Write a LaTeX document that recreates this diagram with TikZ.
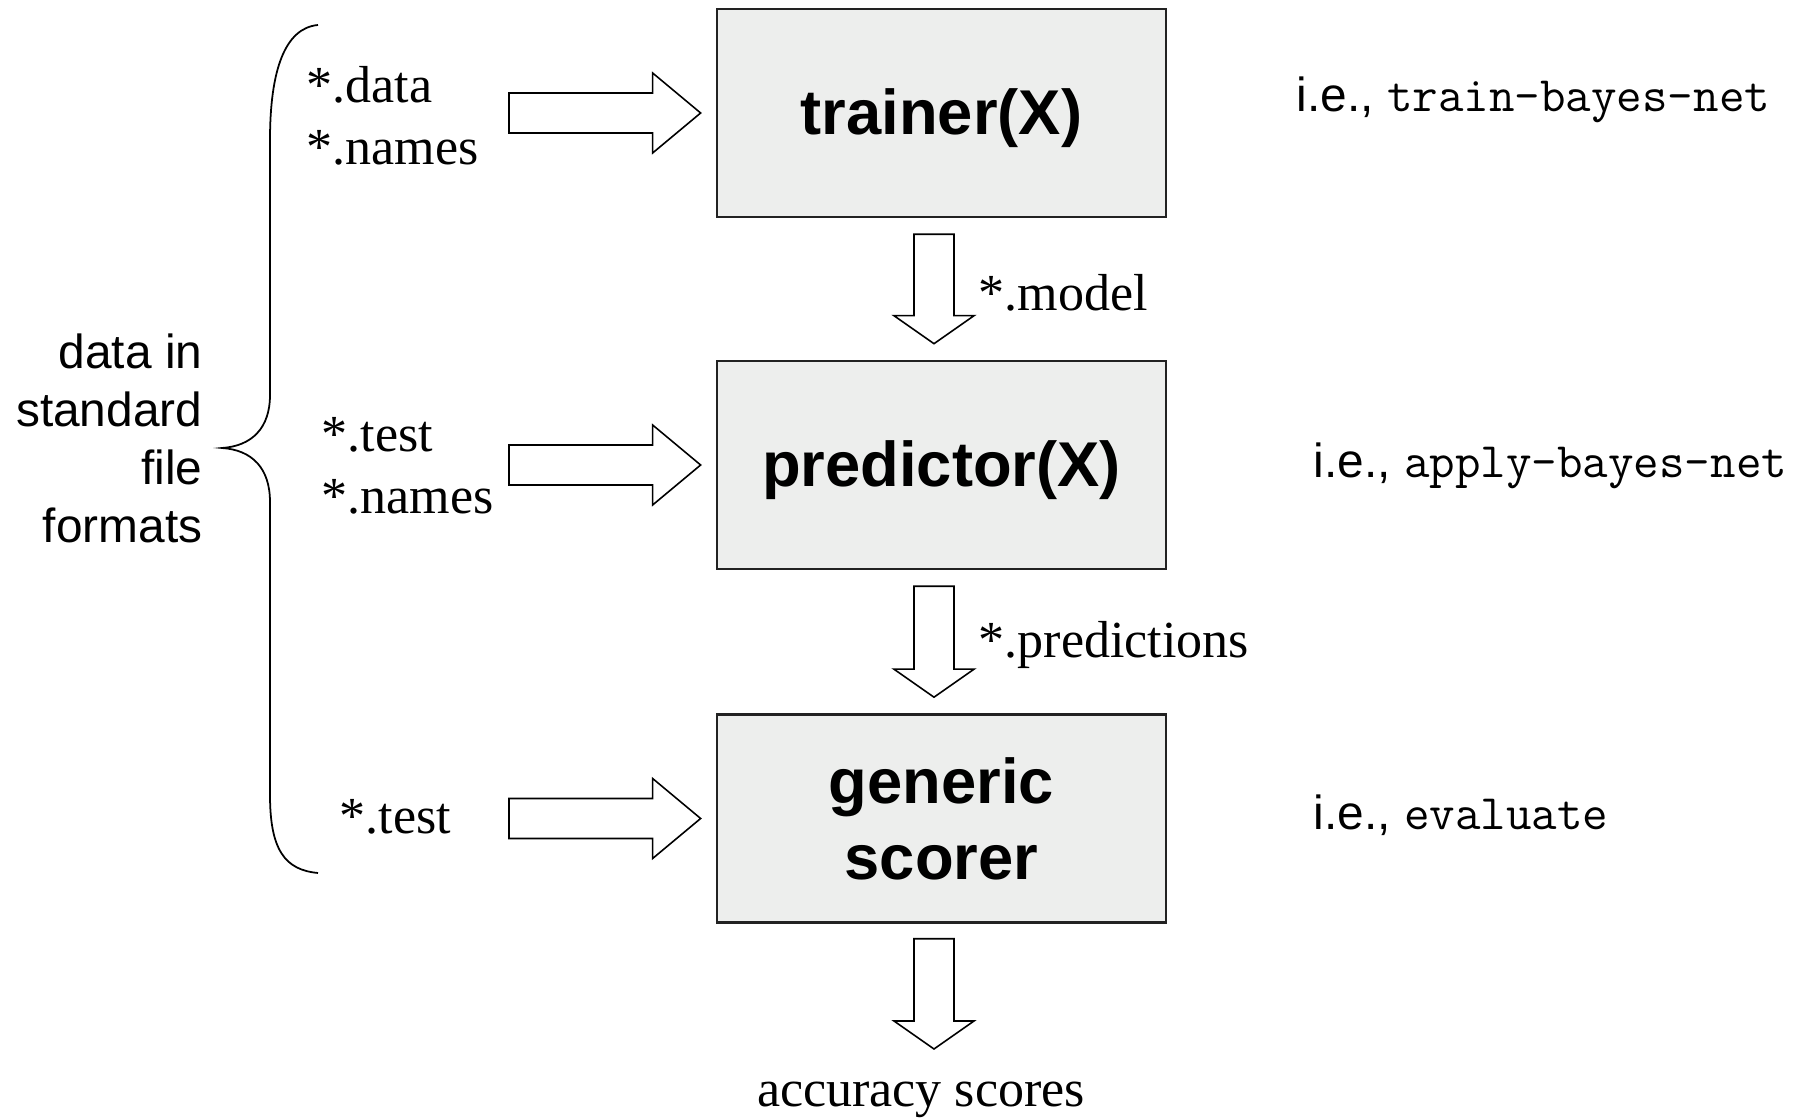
\documentclass[tikz,border=0pt]{standalone}
\usepackage{fontspec}
\setmainfont{Liberation Serif}
\setsansfont{Liberation Sans}
\usetikzlibrary{calc}

\definecolor{boxfill}{RGB}{237,238,237}
\definecolor{boxline}{RGB}{34,34,34}

\tikzset{
  stage/.style={draw=boxline, line width=0.7pt, fill=boxfill,
    minimum width=4.49cm, minimum height=2.08cm, inner sep=0pt, align=center,
    font=\sffamily\bfseries\fontsize{18}{21.6}\selectfont},
  filelabel/.style={inner sep=0pt, align=left, font=\fontsize{14.8}{17.6}\selectfont},
  note/.style={inner sep=0pt, font=\sffamily\fontsize{13.6}{16.5}\selectfont},
  flowarrow/.style={draw=black, fill=white, line width=0.45pt, line join=miter},
  bracket/.style={draw=black, line width=0.5pt},
}

% hollow block arrow pointing right: from the start point #1 to the tip #2
\newcommand\hflow[2]{%
  \draw[flowarrow] let \p1=(#1), \p2=(#2) in
    (\x1,\y2+0.2cm) -- (\x2-0.48cm,\y2+0.2cm) -- (\x2-0.48cm,\y2+0.4cm) --
    (\x2,\y2) -- (\x2-0.48cm,\y2-0.4cm) -- (\x2-0.48cm,\y2-0.2cm) --
    (\x1,\y2-0.2cm) -- cycle;}

% hollow block arrow pointing down: from the top point #1 to the tip #2
\newcommand\vflow[2]{%
  \draw[flowarrow] let \p1=(#1), \p2=(#2) in
    (\x1-0.2cm,\y1) -- (\x1+0.2cm,\y1) -- (\x1+0.2cm,\y2+0.28cm) --
    (\x1+0.4cm,\y2+0.28cm) -- (\x1,\y2) -- (\x1-0.4cm,\y2+0.28cm) --
    (\x1-0.2cm,\y2+0.28cm) -- cycle;}

\newcommand\mono[1]{{\ttfamily\fontsize{14.1}{16}\selectfont #1}}
% one-line stage title, set a little lower than its natural centre
\newcommand\stagetitle[1]{\raisebox{-1.6pt}[\height][\depth]{#1}}

\begin{document}
\begin{tikzpicture}[x=0.01cm, y=-0.01cm]
\useasboundingbox (0,0) rectangle (1802,1119);

% processing stages
\node[stage] (trainer)   at (941.5,113)   {\stagetitle{trainer(X)}};
\node[stage] (predictor) at (941.5,465)   {\stagetitle{predictor(X)}};
\node[stage] (scorer)    at (941.5,818.5) {generic\\scorer};

% input files
\node[filelabel, anchor=north west] (in1files) at (306,66)  {*.data\\*.names};
\node[filelabel, anchor=north west] (in2files) at (321,417) {*.test\\*.names};
\node[filelabel, anchor=base west]  (in3files) at (339,834) {*.test};

\coordinate (in1) at (509,113);
\coordinate (in2) at (509,465);
\coordinate (in3) at (509,817.5);
\hflow{in1}{[xshift=-0.15cm]trainer.west}
\hflow{in2}{[xshift=-0.15cm]predictor.west}
\hflow{in3}{[xshift=-0.15cm]scorer.west}

% flow between stages
\vflow{[shift={(-7.5,16)}]trainer.south}{[shift={(-7.5,-16)}]predictor.north}
\vflow{[shift={(-7.5,16)}]predictor.south}{[shift={(-7.5,-16)}]scorer.north}
\coordinate (out) at (934,1049);
\vflow{[shift={(-7.5,15)}]scorer.south}{out}

\node[filelabel, anchor=base west] (model) at (978,311) {*.model};
\node[filelabel, anchor=base west] (preds) at (978,658) {*.predictions};
\node[filelabel, anchor=base] (result) at (921,1107) {accuracy scores};

% brace grouping the input files
\draw[bracket] (318,25) .. controls (285,28) and (270,70) .. (270,140)
  -- (270,395) .. controls (270,428) and (252,446) .. (222,448)
  .. controls (252,450) and (270,468) .. (270,502)
  -- (270,795) .. controls (270,850) and (285,870) .. (318,873);
\node[note, anchor=east, align=right] (formats) at (203,438)
  {data in\\standard\\file\\formats};

% example programs
\node[note, anchor=base west] (ex1) at (1296,112) {i.e., \mono{train-bayes-net}};
\node[note, anchor=base west] (ex2) at (1313,478) {i.e., \mono{apply-bayes-net}};
\node[note, anchor=base west] (ex3) at (1313,830) {i.e., \mono{evaluate}};
\end{tikzpicture}
\end{document}
